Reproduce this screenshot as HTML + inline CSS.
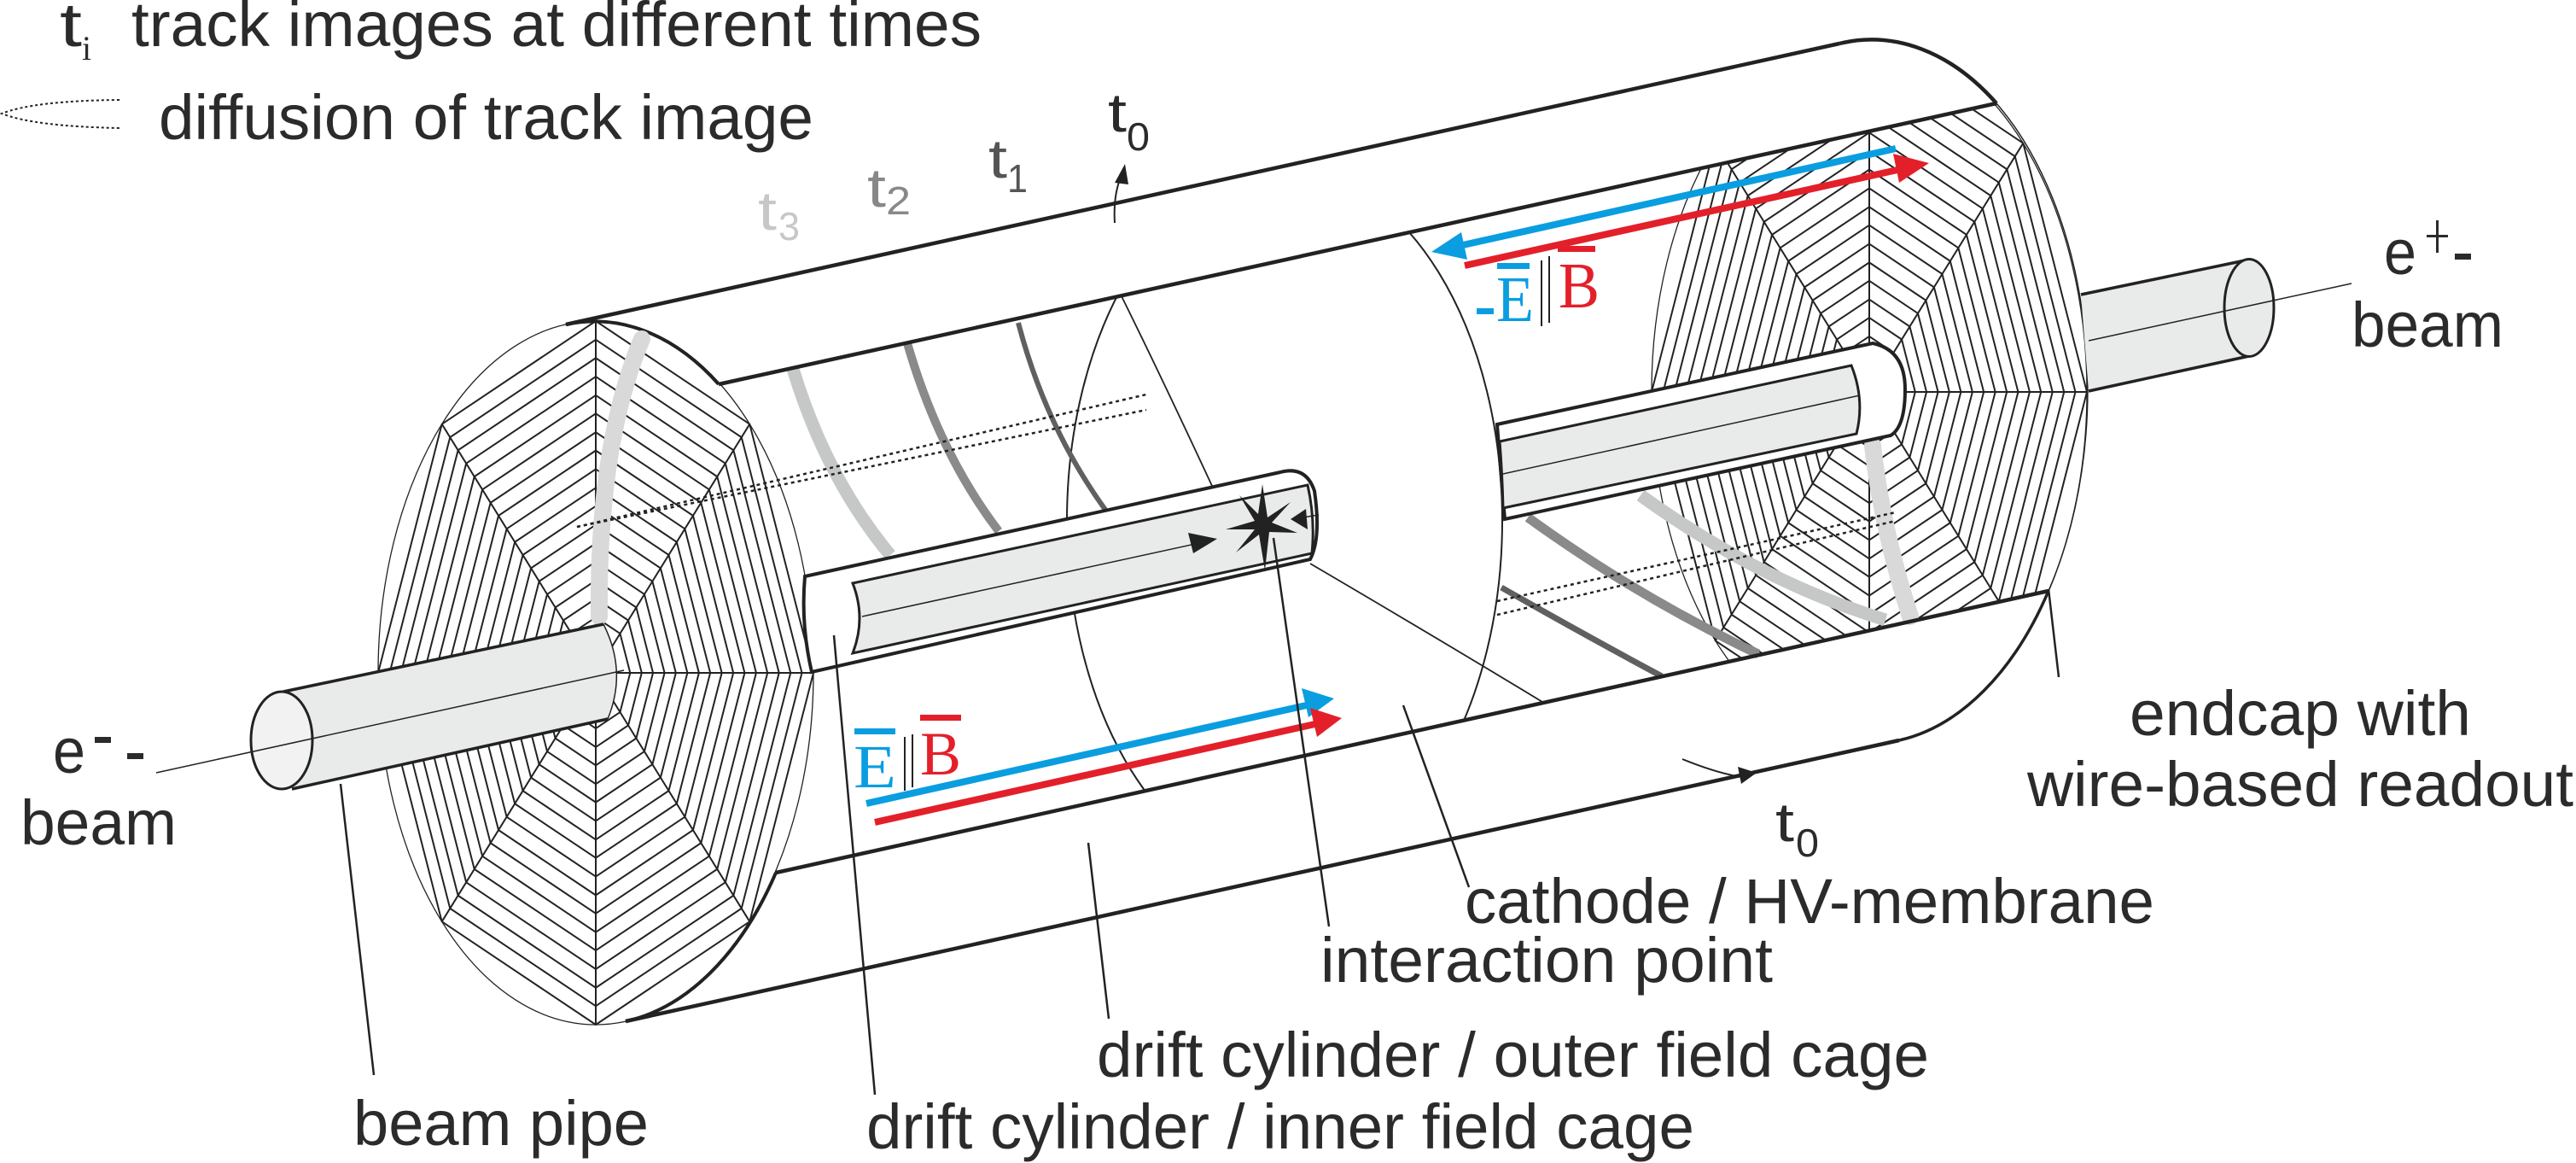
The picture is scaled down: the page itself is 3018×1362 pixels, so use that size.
<!DOCTYPE html>
<html><head><meta charset="utf-8"><style>html,body{margin:0;padding:0;background:#fff}svg{display:block}text{font-family:"Liberation Sans",sans-serif;fill:#2b2b2b}</style></head><body>
<svg xmlns="http://www.w3.org/2000/svg" xmlns:xlink="http://www.w3.org/1999/xlink" width="3018" height="1362" viewBox="0 0 3018 1362">
<defs>
<clipPath id="cut"><polygon points="842,450 2600,63 2600,649 909,1022"/></clipPath>
<polygon id="oct" points="0,-412 180.3,-291.3 255,0 180.3,291.3 0,412 -180.3,291.3 -255,0 -180.3,-291.3" fill="none" stroke="#222" stroke-width="2" vector-effect="non-scaling-stroke"/>
<g id="cap">
<ellipse cx="698" cy="788" rx="255" ry="412" fill="#fff"/>
<g transform="translate(698,788)">
<use xlink:href="#oct"/>
<use xlink:href="#oct" transform="scale(0.947)"/><use xlink:href="#oct" transform="scale(0.895)"/>
<use xlink:href="#oct" transform="scale(0.842)"/><use xlink:href="#oct" transform="scale(0.789)"/>
<use xlink:href="#oct" transform="scale(0.737)"/><use xlink:href="#oct" transform="scale(0.684)"/>
<use xlink:href="#oct" transform="scale(0.632)"/><use xlink:href="#oct" transform="scale(0.579)"/>
<use xlink:href="#oct" transform="scale(0.526)"/><use xlink:href="#oct" transform="scale(0.474)"/>
<use xlink:href="#oct" transform="scale(0.421)"/><use xlink:href="#oct" transform="scale(0.368)"/>
<use xlink:href="#oct" transform="scale(0.316)"/><use xlink:href="#oct" transform="scale(0.263)"/>
<use xlink:href="#oct" transform="scale(0.211)"/><use xlink:href="#oct" transform="scale(0.158)"/>
<g stroke="#222" stroke-width="2">
<line x1="0" y1="0" x2="0" y2="-412"/><line x1="0" y1="0" x2="0" y2="412"/>
<line x1="0" y1="0" x2="-255" y2="0"/><line x1="0" y1="0" x2="255" y2="0"/>
<line x1="0" y1="0" x2="-180.3" y2="-291.3"/><line x1="0" y1="0" x2="180.3" y2="-291.3"/>
<line x1="0" y1="0" x2="-180.3" y2="291.3"/><line x1="0" y1="0" x2="180.3" y2="291.3"/>
</g>
</g>
<ellipse cx="698" cy="788" rx="255" ry="412" fill="none" stroke="#222" stroke-width="1.3"/>
</g>
</defs>

<!-- right endcap (cut view) -->
<g clip-path="url(#cut)"><use xlink:href="#cap" transform="translate(1492,-329)"/></g>
<g fill="none" stroke="#222">
<path d="M2155,51 A255,412 0 0 1 2339,121" stroke-width="4.5"/>
<path d="M2339,121 A255,412 0 0 1 2400,692" stroke-width="1.5"/>
<path d="M2400,692 A255,412 0 0 1 2225,867" stroke-width="3.5"/>
</g>

<!-- membrane -->
<g clip-path="url(#cut)"><ellipse cx="1505" cy="610" rx="255" ry="412" fill="#fff" stroke="#222" stroke-width="2"/></g>
<path d="M1314,347 Q1360,440 1420,569" fill="none" stroke="#222" stroke-width="1.8"/>
<path d="M1535,660 Q1680,745 1807,822" fill="none" stroke="#222" stroke-width="1.8"/>

<!-- right tracks -->
<g fill="none" stroke-linecap="butt">
<path d="M1922,580 Q2060,680 2209,726" stroke="#c6c8c7" stroke-width="15"/>
<path d="M1790,606 Q1920,700 2060,766" stroke="#8a8a8a" stroke-width="11"/>
<path d="M1759,688 Q1850,740 1947,792" stroke="#606060" stroke-width="7"/>
<path d="M2194,522 Q2205,620 2238,722" stroke="#d8d9d8" stroke-width="20" stroke-linecap="round"/>
</g>
<g stroke="#222" stroke-width="2.5" stroke-dasharray="4,4" fill="none">
<line x1="1754" y1="704" x2="2221" y2="600"/><line x1="1754" y1="720" x2="2221" y2="610"/>
</g>

<!-- right inner tube -->
<path d="M1754,497 L2194,402 Q2232,410 2232,456 Q2232,500 2215,510 L1763,608 Q1758,550 1754,497 Z" fill="#fff" stroke="#222" stroke-width="4"/>
<path d="M1757,517 L2169,428 Q2185,468 2175,508 L1761,595 Q1760,555 1757,517 Z" fill="#e9ebea" stroke="#222" stroke-width="3"/>
<line x1="1761" y1="555" x2="2179" y2="463" stroke="#222" stroke-width="1.5"/>

<!-- left tracks -->
<g fill="none">
<path d="M929,432 Q968,560 1043,650" stroke="#c6c8c7" stroke-width="15"/>
<path d="M1063,402 Q1100,530 1170,622" stroke="#8a8a8a" stroke-width="10"/>
<path d="M1193,378 Q1225,500 1295,597" stroke="#606060" stroke-width="6"/>
</g>

<!-- left endcap -->
<use xlink:href="#cap"/>
<g fill="none" stroke="#222" stroke-width="4">
<path d="M663,380 A255,412 0 0 1 842,450"/>
<path d="M909,1022 A255,412 0 0 1 733,1196"/>
</g>
<path d="M752,397 Q700,520 702,722" fill="none" stroke="#d8d9d8" stroke-width="20" stroke-linecap="round"/>
<g stroke="#222" stroke-width="2.5" stroke-dasharray="4,4" fill="none">
<line x1="676" y1="617" x2="1343" y2="462"/><line x1="676" y1="617" x2="1343" y2="480"/>
</g>

<!-- left inner tube -->
<path d="M943,675 L1500,553 Q1530,545 1540,575 Q1548,630 1535,655 L951,787 Q938,731 943,675 Z" fill="#fff" stroke="#222" stroke-width="4"/>
<path d="M999,683 L1532,568 Q1541,608 1537,648 L999,765 Q1015,724 999,683 Z" fill="#e9ebea" stroke="#222" stroke-width="3"/>
<line x1="1010" y1="722" x2="1405" y2="636" stroke="#222" stroke-width="1.5"/>
<polygon points="1426,631 1398,648 1392,624" fill="#222"/>
<line x1="1520" y1="607" x2="1545" y2="603" stroke="#222" stroke-width="1.5"/>
<polygon points="1512,608 1530,596 1532,620" fill="#222"/>
<polygon points="1479,567 1485,606 1512,588 1490,612 1520,624 1487,623 1482,668 1475,626 1448,647 1470,620 1436,620 1470,610 1452,580 1474,602" fill="#222"/>

<!-- shell lines -->
<g stroke="#222" stroke-width="4.5">
<line x1="663" y1="380" x2="2155" y2="51"/>
<line x1="842" y1="450" x2="2339" y2="121"/>
<line x1="909" y1="1022" x2="2400" y2="692"/>
<line x1="733" y1="1196" x2="2225" y2="867"/>
</g>

<!-- left beam pipe -->
<path d="M332,810 L707,731 Q735,786 712,842 L342,924 Z" fill="#e9ebea" stroke="none"/>
<line x1="332" y1="810" x2="707" y2="731" stroke="#222" stroke-width="3.5"/>
<line x1="342" y1="924" x2="712" y2="842" stroke="#222" stroke-width="3.5"/>
<path d="M707,731 Q735,786 712,842" fill="none" stroke="#222" stroke-width="1.5"/>
<ellipse cx="330" cy="867" rx="36" ry="57" fill="#f2f2f2" stroke="#222" stroke-width="3"/>
<line x1="183" y1="905" x2="731" y2="785" stroke="#222" stroke-width="1.5"/>

<!-- right beam pipe -->
<path d="M2438,345 L2635,304 L2635,417 L2447,458 Z" fill="#e9ebea"/>
<line x1="2438" y1="345" x2="2635" y2="304" stroke="#222" stroke-width="3.5"/>
<line x1="2447" y1="458" x2="2635" y2="417" stroke="#222" stroke-width="3.5"/>
<ellipse cx="2635" cy="360.5" rx="29" ry="57" fill="#e9ebea" stroke="#222" stroke-width="3"/>
<line x1="2447" y1="399" x2="2755" y2="332" stroke="#222" stroke-width="1.5"/>

<!-- E/B arrows front -->
<line x1="1015" y1="941" x2="1535" y2="825" stroke="#0a9ee0" stroke-width="8"/>
<polygon points="1563,818 1525,806 1533,840" fill="#0a9ee0"/>
<line x1="1025" y1="963" x2="1545" y2="847" stroke="#e3202a" stroke-width="8"/>
<polygon points="1572,841 1535,829 1543,863" fill="#e3202a"/>
<rect x="1001" y="853" width="48" height="7" fill="#0a9ee0"/>
<text x="1000" y="922" style="font-family:'Liberation Serif',serif;font-size:72px;fill:#0a9ee0" textLength="50" lengthAdjust="spacingAndGlyphs">E</text>
<line x1="1060" y1="863" x2="1060" y2="926" stroke="#222" stroke-width="2"/>
<line x1="1069" y1="860" x2="1069" y2="922" stroke="#222" stroke-width="2"/>
<rect x="1078" y="837" width="48" height="7" fill="#e3202a"/>
<text x="1078" y="907" style="font-family:'Liberation Serif',serif;font-size:72px;fill:#e3202a" textLength="48" lengthAdjust="spacingAndGlyphs">B</text>

<!-- E/B arrows back -->
<line x1="2221" y1="174" x2="1705" y2="289" stroke="#0a9ee0" stroke-width="8"/>
<polygon points="1677,295 1712,272 1719,304" fill="#0a9ee0"/>
<line x1="1716" y1="311" x2="2232" y2="197" stroke="#e3202a" stroke-width="8"/>
<polygon points="2260,191 2225,214 2218,180" fill="#e3202a"/>
<rect x="1730" y="361" width="20" height="7" fill="#0a9ee0"/>
<rect x="1754" y="308" width="38" height="7" fill="#0a9ee0"/>
<text x="1753" y="376" style="font-family:'Liberation Serif',serif;font-size:76px;fill:#0a9ee0" textLength="44" lengthAdjust="spacingAndGlyphs">E</text>
<line x1="1806" y1="305" x2="1806" y2="382" stroke="#222" stroke-width="2"/>
<line x1="1815" y1="300" x2="1815" y2="378" stroke="#222" stroke-width="2"/>
<rect x="1825" y="288" width="44" height="7" fill="#e3202a"/>
<text x="1826" y="360" style="font-family:'Liberation Serif',serif;font-size:76px;fill:#e3202a" textLength="48" lengthAdjust="spacingAndGlyphs">B</text>

<!-- t0 arrows -->
<path d="M1306,261 Q1304,228 1314,205" fill="none" stroke="#222" stroke-width="2"/>
<polygon points="1318,192 1306,214 1322,216" fill="#222"/>
<path d="M1971,889 Q2010,905 2040,910" fill="none" stroke="#222" stroke-width="2"/>
<polygon points="2058,905 2036,898 2040,918" fill="#222"/>

<!-- legend -->
<path d="M140,117 Q40,118 2,133 Q40,148 140,150" fill="none" stroke="#222" stroke-width="2" stroke-dasharray="3,3"/>
<text x="70" y="54" style="font-size:72px" textLength="26" lengthAdjust="spacingAndGlyphs">t</text>
<text x="96" y="70" style="font-family:'Liberation Serif',serif;font-size:40px;fill:#2b2b2b">i</text>
<text x="154" y="54" style="font-size:74px" textLength="996" lengthAdjust="spacingAndGlyphs">track images at different times</text>
<text x="186" y="163" style="font-size:74px" textLength="767" lengthAdjust="spacingAndGlyphs">diffusion of track image</text>

<!-- t labels -->
<text x="1298" y="154" style="font-size:64px" textLength="22" lengthAdjust="spacingAndGlyphs">t</text>
<text x="1320" y="176" style="font-size:46px" textLength="27" lengthAdjust="spacingAndGlyphs">0</text>
<text x="1158" y="208" style="font-size:64px;fill:#555" textLength="22" lengthAdjust="spacingAndGlyphs">t</text>
<text x="1180" y="225" style="font-size:46px;fill:#555" textLength="24" lengthAdjust="spacingAndGlyphs">1</text>
<text x="1016" y="242" style="font-size:64px;fill:#888" textLength="22" lengthAdjust="spacingAndGlyphs">t</text>
<text x="1038" y="251" style="font-size:46px;fill:#888" textLength="29" lengthAdjust="spacingAndGlyphs">2</text>
<text x="888" y="269" style="font-size:64px;fill:#c6c8c7" textLength="22" lengthAdjust="spacingAndGlyphs">t</text>
<text x="912" y="281" style="font-size:46px;fill:#c6c8c7" textLength="25" lengthAdjust="spacingAndGlyphs">3</text>
<text x="2080" y="985" style="font-size:64px" textLength="22" lengthAdjust="spacingAndGlyphs">t</text>
<text x="2104" y="1003" style="font-size:46px" textLength="27" lengthAdjust="spacingAndGlyphs">0</text>

<!-- beam labels -->
<text x="62" y="905" style="font-size:74px" textLength="38" lengthAdjust="spacingAndGlyphs">e</text>
<rect x="111" y="863" width="19" height="7" fill="#2b2b2b"/>
<rect x="149" y="882" width="19" height="7" fill="#2b2b2b"/>
<text x="24" y="989" style="font-size:74px" textLength="183" lengthAdjust="spacingAndGlyphs">beam</text>
<text x="2793" y="321" style="font-size:74px" textLength="38" lengthAdjust="spacingAndGlyphs">e</text>
<rect x="2843" y="275" width="25" height="3" fill="#2b2b2b"/><rect x="2854" y="258" width="3" height="38" fill="#2b2b2b"/>
<rect x="2876" y="297" width="19" height="7" fill="#2b2b2b"/>
<text x="2755" y="406" style="font-size:74px" textLength="178" lengthAdjust="spacingAndGlyphs">beam</text>

<!-- leaders -->
<g stroke="#222" stroke-width="2.5">
<line x1="399" y1="918" x2="438" y2="1259"/>
<line x1="977" y1="744" x2="1025" y2="1282"/>
<line x1="1275" y1="987" x2="1299" y2="1193"/>
<line x1="1492" y1="630" x2="1557" y2="1085"/>
<line x1="1644" y1="826" x2="1721" y2="1039"/>
<line x1="2400" y1="690" x2="2412" y2="793"/>
</g>

<!-- labels -->
<text x="2495" y="861" style="font-size:74px" textLength="400" lengthAdjust="spacingAndGlyphs">endcap with</text>
<text x="2375" y="944" style="font-size:74px" textLength="640" lengthAdjust="spacingAndGlyphs">wire-based readout</text>
<text x="1716" y="1081" style="font-size:74px" textLength="808" lengthAdjust="spacingAndGlyphs">cathode / HV-membrane</text>
<text x="1547" y="1150" style="font-size:74px" textLength="530" lengthAdjust="spacingAndGlyphs">interaction point</text>
<text x="1285" y="1261" style="font-size:74px" textLength="975" lengthAdjust="spacingAndGlyphs">drift cylinder / outer field cage</text>
<text x="1015" y="1345" style="font-size:74px" textLength="970" lengthAdjust="spacingAndGlyphs">drift cylinder / inner field cage</text>
<text x="414" y="1341" style="font-size:74px" textLength="346" lengthAdjust="spacingAndGlyphs">beam pipe</text>
</svg>
</body></html>
